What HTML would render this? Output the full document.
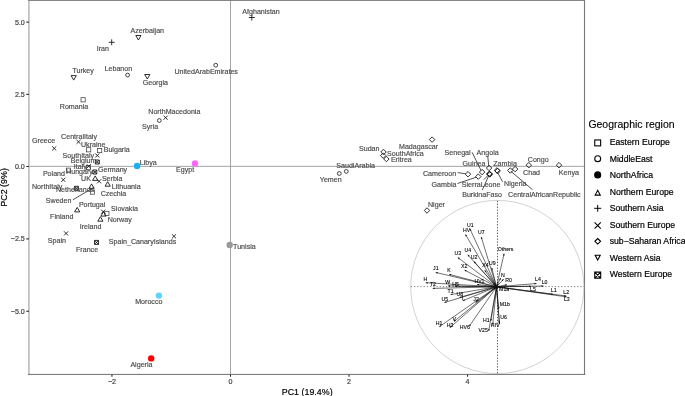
<!DOCTYPE html>
<html lang="en"><head><meta charset="utf-8"><title>PCA of mtDNA haplogroup frequencies</title>
<style>
html,body{margin:0;padding:0;background:#fff;}
body{width:685px;height:396px;overflow:hidden;}
svg{display:block;font-family:"Liberation Sans",Arial,Helvetica,sans-serif;}
.lab{font-size:7.1px;fill:#4a4a4a;stroke:#4a4a4a;stroke-width:0.16px;}
.tick{font-size:7.1px;fill:#444;stroke:#444;stroke-width:0.2px;}
.bi{font-size:5.2px;fill:#000;stroke:#000;stroke-width:0.1px;}
.leg{font-size:8.67px;fill:#000;stroke:#000;stroke-width:0.2px;}
.ttl{font-size:8.9px;fill:#000;stroke:#000;stroke-width:0.18px;}
</style></head><body>
<svg width="685" height="396" viewBox="0 0 685 396">
<rect x="0" y="0" width="685" height="396" fill="#ffffff"/>
<g stroke="#9a9a9a" stroke-width="0.9" fill="none"><path d="M29.4 166.35H584.3"/><path d="M230.5 0.5V374.5"/></g>
<rect x="28" y="0" width="1.8" height="374.9" fill="#c2c2c2"/>
<rect x="28" y="0" width="557.1" height="0.95" fill="#808080"/>
<rect x="583.95" y="0" width="1.1" height="374.9" fill="#787878"/>
<rect x="28" y="373.9" width="557.1" height="1.0" fill="#707070"/>
<g stroke="#1a1a1a" stroke-width="1.05">
<path d="M26.3 22.1H28.9"/>
<path d="M26.3 94.35H28.9"/>
<path d="M26.3 166.5H28.9"/>
<path d="M26.3 238.9H28.9"/>
<path d="M26.3 311.25H28.9"/>
<path d="M111.95 374.8V376.7"/>
<path d="M230.5 374.8V376.7"/>
<path d="M349.05 374.8V376.7"/>
<path d="M467.6 374.8V376.7"/>
</g>
<g class="tick" text-anchor="end">
<text x="24.8" y="24.55">5.0</text>
<text x="24.8" y="96.75">2.5</text>
<text x="24.8" y="168.95">0.0</text>
<text x="24.8" y="241.25">−2.5</text>
<text x="24.8" y="313.55">−5.0</text>
</g><g class="tick" text-anchor="middle">
<text x="111.95" y="384.0">−2</text>
<text x="230.5" y="384.0">0</text>
<text x="349.05" y="384.0">2</text>
<text x="467.6" y="384.0">4</text>
</g>
<text class="ttl" x="307.2" y="394.7" text-anchor="middle">PC1 (19.4%)</text>
<text class="ttl" transform="translate(6.7 187.4) rotate(-90)" text-anchor="middle">PC2 (9%)</text>
<circle cx="497.3" cy="287.0" r="86.6" fill="none" stroke="#b4b4b4" stroke-width="0.6"/>
<g fill="none"><path d="M497.5 200.8V373.6" stroke="#3a3a3a" stroke-width="0.8" stroke-dasharray="1.4 1.5"/><path d="M410.8 286.6H584" stroke="#6e6e6e" stroke-width="0.85" stroke-dasharray="1.3 1.9"/></g>
<g stroke="#1a1a1a" stroke-width="0.75" fill="none">
<path d="M72.9 199.8L93.5 187.5"/>
<path d="M457.7 172.6L465.8 173.8"/>
<path d="M472.1 152.3L481.1 170.6"/>
<path d="M487.7 155.8L488.8 166.3"/>
<path d="M457.5 183.5L476.3 177.2"/>
<path d="M483.8 179.7L488.2 175.2"/>
<path d="M482.3 190.1L489.1 174.9"/>
<path d="M497.5 172.3L502.6 181.8"/>
<path d="M510.8 171.2L532.5 189.7"/>
</g>
<g>
<rect x="81.00" y="97.70" width="4.20" height="4.20" fill="none" stroke="#2e2e2e" stroke-width="0.68"/>
<rect x="86.60" y="147.70" width="4.20" height="4.20" fill="none" stroke="#2e2e2e" stroke-width="0.68"/>
<rect x="97.60" y="148.50" width="4.20" height="4.20" fill="none" stroke="#2e2e2e" stroke-width="0.68"/>
<rect x="66.40" y="168.10" width="4.20" height="4.20" fill="none" stroke="#2e2e2e" stroke-width="0.68"/>
<rect x="86.40" y="165.50" width="4.20" height="4.20" fill="none" stroke="#2e2e2e" stroke-width="0.68"/>
<rect x="90.30" y="190.00" width="4.20" height="4.20" fill="none" stroke="#2e2e2e" stroke-width="0.68"/>
<rect x="104.80" y="211.30" width="4.20" height="4.20" fill="none" stroke="#2e2e2e" stroke-width="0.68"/>
<circle cx="127.60" cy="75.10" r="1.90" fill="none" stroke="#141414" stroke-width="0.8"/>
<circle cx="215.70" cy="65.20" r="1.90" fill="none" stroke="#141414" stroke-width="0.8"/>
<circle cx="159.30" cy="120.50" r="1.90" fill="none" stroke="#141414" stroke-width="0.8"/>
<circle cx="346.30" cy="171.40" r="1.90" fill="none" stroke="#141414" stroke-width="0.8"/>
<circle cx="339.30" cy="173.50" r="1.90" fill="none" stroke="#141414" stroke-width="0.8"/>
<path d="M95.20 175.90L97.80 180.40L92.60 180.40Z" fill="none" stroke="#141414" stroke-width="0.88"/>
<path d="M107.70 181.70L110.30 186.20L105.10 186.20Z" fill="none" stroke="#141414" stroke-width="0.88"/>
<path d="M91.60 183.90L94.20 188.40L89.00 188.40Z" fill="none" stroke="#141414" stroke-width="0.88"/>
<path d="M77.20 207.40L79.80 211.90L74.60 211.90Z" fill="none" stroke="#141414" stroke-width="0.88"/>
<path d="M103.50 211.60L106.10 216.10L100.90 216.10Z" fill="none" stroke="#141414" stroke-width="0.88"/>
<path d="M100.40 216.70L103.00 221.20L97.80 221.20Z" fill="none" stroke="#141414" stroke-width="0.88"/>
<path d="M108.70 42.30H114.70M111.70 39.30V45.30" fill="none" stroke="#141414" stroke-width="0.88"/>
<path d="M248.80 17.50H254.80M251.80 14.50V20.50" fill="none" stroke="#141414" stroke-width="0.88"/>
<path d="M163.55 115.65L167.65 119.75M163.55 119.75L167.65 115.65" fill="none" stroke="#141414" stroke-width="0.88"/>
<path d="M52.15 146.35L56.25 150.45M52.15 150.45L56.25 146.35" fill="none" stroke="#141414" stroke-width="0.88"/>
<path d="M76.45 139.85L80.55 143.95M76.45 143.95L80.55 139.85" fill="none" stroke="#141414" stroke-width="0.88"/>
<path d="M95.25 153.45L99.35 157.55M95.25 157.55L99.35 153.45" fill="none" stroke="#141414" stroke-width="0.88"/>
<path d="M86.65 164.25L90.75 168.35M86.65 168.35L90.75 164.25" fill="none" stroke="#141414" stroke-width="0.88"/>
<path d="M61.25 177.75L65.35 181.85M61.25 181.85L65.35 177.75" fill="none" stroke="#141414" stroke-width="0.88"/>
<path d="M97.05 179.25L101.15 183.35M97.05 183.35L101.15 179.25" fill="none" stroke="#141414" stroke-width="0.88"/>
<path d="M101.15 209.65L105.25 213.75M101.15 213.75L105.25 209.65" fill="none" stroke="#141414" stroke-width="0.88"/>
<path d="M64.05 231.35L68.15 235.45M64.05 235.45L68.15 231.35" fill="none" stroke="#141414" stroke-width="0.88"/>
<path d="M171.95 234.25L176.05 238.35M171.95 238.35L176.05 234.25" fill="none" stroke="#141414" stroke-width="0.88"/>
<path d="M383.50 149.28L386.22 152.00L383.50 154.72L380.78 152.00Z" fill="none" stroke="#141414" stroke-width="0.88"/>
<path d="M383.20 152.88L385.92 155.60L383.20 158.32L380.48 155.60Z" fill="none" stroke="#141414" stroke-width="0.88"/>
<path d="M386.40 156.28L389.12 159.00L386.40 161.72L383.68 159.00Z" fill="none" stroke="#141414" stroke-width="0.88"/>
<path d="M432.10 136.88L434.82 139.60L432.10 142.32L429.38 139.60Z" fill="none" stroke="#141414" stroke-width="0.88"/>
<path d="M427.00 207.78L429.72 210.50L427.00 213.22L424.28 210.50Z" fill="none" stroke="#141414" stroke-width="0.88"/>
<path d="M468.00 171.48L470.72 174.20L468.00 176.92L465.28 174.20Z" fill="none" stroke="#141414" stroke-width="0.88"/>
<path d="M482.10 169.38L484.82 172.10L482.10 174.82L479.38 172.10Z" fill="none" stroke="#141414" stroke-width="0.88"/>
<path d="M478.30 173.88L481.02 176.60L478.30 179.32L475.58 176.60Z" fill="none" stroke="#141414" stroke-width="0.88"/>
<path d="M489.10 165.28L491.82 168.00L489.10 170.72L486.38 168.00Z" fill="none" stroke="#141414" stroke-width="0.88"/>
<path d="M489.60 171.38L492.32 174.10L489.60 176.82L486.88 174.10Z" fill="none" stroke="#141414" stroke-width="0.88"/>
<path d="M489.90 171.68L492.62 174.40L489.90 177.12L487.18 174.40Z" fill="none" stroke="#141414" stroke-width="0.88"/>
<path d="M489.30 171.08L492.02 173.80L489.30 176.52L486.58 173.80Z" fill="none" stroke="#141414" stroke-width="0.88"/>
<path d="M497.00 167.68L499.72 170.40L497.00 173.12L494.28 170.40Z" fill="none" stroke="#141414" stroke-width="0.88"/>
<path d="M497.60 168.28L500.32 171.00L497.60 173.72L494.88 171.00Z" fill="none" stroke="#141414" stroke-width="0.88"/>
<path d="M510.30 167.78L513.02 170.50L510.30 173.22L507.58 170.50Z" fill="none" stroke="#141414" stroke-width="0.88"/>
<path d="M515.10 166.38L517.82 169.10L515.10 171.82L512.38 169.10Z" fill="none" stroke="#141414" stroke-width="0.88"/>
<path d="M528.80 162.48L531.52 165.20L528.80 167.92L526.08 165.20Z" fill="none" stroke="#141414" stroke-width="0.88"/>
<path d="M559.00 162.48L561.72 165.20L559.00 167.92L556.28 165.20Z" fill="none" stroke="#141414" stroke-width="0.88"/>
<path d="M138.40 40.00L141.00 35.50L135.80 35.50Z" fill="none" stroke="#141414" stroke-width="0.88"/>
<path d="M73.70 80.10L76.30 75.60L71.10 75.60Z" fill="none" stroke="#141414" stroke-width="0.88"/>
<path d="M147.30 79.00L149.90 74.50L144.70 74.50Z" fill="none" stroke="#141414" stroke-width="0.88"/>
<path d="M95.30 160.00H99.30V164.00H95.30Z M95.30 160.00L99.30 164.00M95.30 164.00L99.30 160.00" fill="none" stroke="#141414" stroke-width="0.88"/>
<path d="M92.80 170.00H96.80V174.00H92.80Z M92.80 170.00L96.80 174.00M92.80 174.00L96.80 170.00" fill="none" stroke="#141414" stroke-width="0.88"/>
<path d="M74.40 186.30H78.40V190.30H74.40Z M74.40 186.30L78.40 190.30M74.40 190.30L78.40 186.30" fill="none" stroke="#141414" stroke-width="0.88"/>
<path d="M94.50 240.40H98.50V244.40H94.50Z M94.50 240.40L98.50 244.40M94.50 244.40L98.50 240.40" fill="none" stroke="#141414" stroke-width="0.88"/>
<circle cx="137.10" cy="166.00" r="3.20" fill="#1caff0"/>
<circle cx="195.00" cy="163.40" r="3.20" fill="#ff66ff"/>
<circle cx="229.70" cy="245.00" r="3.20" fill="#999999"/>
<circle cx="158.90" cy="295.60" r="3.20" fill="#5fd4ff"/>
<circle cx="151.20" cy="358.40" r="3.20" fill="#ff0000"/>
</g>
<g class="lab">
<text x="242.3" y="13.9">Afghanistan</text>
<text x="130.5" y="33.1">Azerbaijan</text>
<text x="96.7" y="50.5">Iran</text>
<text x="72.4" y="72.8">Turkey</text>
<text x="104.6" y="71.4">Lebanon</text>
<text x="142.7" y="84.7">Georgia</text>
<text x="174.4" y="74.3">UnitedArabEmirates</text>
<text x="59.8" y="108.7">Romania</text>
<text x="148.3" y="113.9">NorthMacedonia</text>
<text x="142" y="129">Syria</text>
<text x="32" y="143.4">Greece</text>
<text x="61.1" y="138.9">CentralItaly</text>
<text x="81" y="146.5">Ukraine</text>
<text x="103.7" y="152.3">Bulgaria</text>
<text x="62.6" y="157.8">SouthItaly</text>
<text x="70.8" y="163.3">Belgium</text>
<text x="73.8" y="168.5">Italy</text>
<text x="42.9" y="175.8">Poland</text>
<text x="66.1" y="174.3">Hungary</text>
<text x="98" y="171.5">Germany</text>
<text x="81.1" y="180.9">UK</text>
<text x="101.9" y="181.1">Serbia</text>
<text x="32" y="188.7">NorthItaly</text>
<text x="56" y="191.8">Netherlands</text>
<text x="111.8" y="189.1">Lithuania</text>
<text x="100.7" y="196.2">Czechia</text>
<text x="45.8" y="202.8">Sweden</text>
<text x="78.9" y="206.9">Portugal</text>
<text x="111.1" y="210.9">Slovakia</text>
<text x="50.1" y="218.9">Finland</text>
<text x="107.7" y="222.2">Norway</text>
<text x="79.7" y="229.2">Ireland</text>
<text x="47.8" y="242.6">Spain</text>
<text x="108.8" y="243.8">Spain_CanaryIslands</text>
<text x="76" y="251.7">France</text>
<text x="139.8" y="164.7">Libya</text>
<text x="176" y="171.9">Egypt</text>
<text x="233.1" y="248.7">Tunisia</text>
<text x="135.2" y="303.9">Morocco</text>
<text x="130.4" y="366.7">Algeria</text>
<text x="336.3" y="167.9">SaudiArabia</text>
<text x="319.8" y="182.1">Yemen</text>
<text x="359" y="150.8">Sudan</text>
<text x="387.1" y="156">SouthAfrica</text>
<text x="390.9" y="161.7">Eritrea</text>
<text x="399" y="148.5">Madagascar</text>
<text x="444.6" y="154.8">Senegal</text>
<text x="476.6" y="154.8">Angola</text>
<text x="462.6" y="165.6">Guinea</text>
<text x="493.2" y="165.5">Zambia</text>
<text x="423.0" y="175.6">Cameroon</text>
<text x="431.6" y="186.8">Gambia</text>
<text x="461.8" y="186.8">SierraLeone</text>
<text x="504.1" y="185.9">Nigeria</text>
<text x="462.2" y="197.1">BurkinaFaso</text>
<text x="508.1" y="196.5">CentralAfricanRepublic</text>
<text x="527.8" y="161.7">Congo</text>
<text x="523.1" y="175">Chad</text>
<text x="558.8" y="174.5">Kenya</text>
<text x="428" y="206.6">Niger</text>
</g>
<g>
<path d="M496.50 286.80L496.77 290.42" stroke="#111" stroke-width="0.6" fill="none"/><path d="M496.77 290.42L495.78 288.49L497.47 288.36Z" fill="#111"/>
<path d="M496.50 286.80L493.89 289.58" stroke="#111" stroke-width="0.6" fill="none"/><path d="M493.89 289.58L494.64 287.54L495.88 288.70Z" fill="#111"/>
<path d="M496.50 286.80L494.95 285.24" stroke="#111" stroke-width="0.6" fill="none"/><path d="M494.95 285.24L496.97 286.06L495.76 287.26Z" fill="#111"/>
<path d="M496.50 286.80L501.00 287.17" stroke="#111" stroke-width="0.6" fill="none"/><path d="M501.00 287.17L498.93 287.85L499.07 286.16Z" fill="#111"/>
<path d="M496.50 286.80L496.34 289.50" stroke="#111" stroke-width="0.6" fill="none"/><path d="M496.34 289.50L495.61 287.45L497.31 287.55Z" fill="#111"/>
<path d="M496.50 286.80L499.91 286.71" stroke="#111" stroke-width="0.6" fill="none"/><path d="M499.91 286.71L497.93 287.61L497.89 285.91Z" fill="#111"/>
<path d="M496.50 286.80L498.27 283.86" stroke="#111" stroke-width="0.6" fill="none"/><path d="M498.27 283.86L497.97 286.02L496.51 285.14Z" fill="#111"/>
<path d="M496.50 286.80L494.93 284.92" stroke="#111" stroke-width="0.6" fill="none"/><path d="M494.93 284.92L496.86 285.91L495.56 287.00Z" fill="#111"/>
<path d="M496.50 286.80L493.45 283.35" stroke="#111" stroke-width="0.6" fill="none"/><path d="M493.45 283.35L495.41 284.29L494.14 285.41Z" fill="#111"/>
<path d="M496.50 286.80L469.90 228.70" stroke="#111" stroke-width="0.6" fill="none"/><path d="M469.90 228.70L471.51 230.16L469.96 230.87Z" fill="#111"/>
<path d="M496.50 286.80L465.40 234.40" stroke="#111" stroke-width="0.6" fill="none"/><path d="M465.40 234.40L467.15 235.69L465.69 236.55Z" fill="#111"/>
<path d="M496.50 286.80L481.20 236.90" stroke="#111" stroke-width="0.6" fill="none"/><path d="M481.20 236.90L482.60 238.56L480.97 239.06Z" fill="#111"/>
<path d="M496.50 286.80L467.70 254.70" stroke="#111" stroke-width="0.6" fill="none"/><path d="M467.70 254.70L469.67 255.62L468.40 256.76Z" fill="#111"/>
<path d="M496.50 286.80L457.80 257.50" stroke="#111" stroke-width="0.6" fill="none"/><path d="M457.80 257.50L459.91 258.03L458.88 259.38Z" fill="#111"/>
<path d="M496.50 286.80L474.00 261.40" stroke="#111" stroke-width="0.6" fill="none"/><path d="M474.00 261.40L475.96 262.33L474.69 263.46Z" fill="#111"/>
<path d="M496.50 286.80L464.50 270.00" stroke="#111" stroke-width="0.6" fill="none"/><path d="M464.50 270.00L466.67 270.18L465.88 271.68Z" fill="#111"/>
<path d="M496.50 286.80L484.70 270.20" stroke="#111" stroke-width="0.6" fill="none"/><path d="M484.70 270.20L486.55 271.34L485.17 272.32Z" fill="#111"/>
<path d="M496.50 286.80L491.70 267.70" stroke="#111" stroke-width="0.6" fill="none"/><path d="M491.70 267.70L493.01 269.43L491.36 269.85Z" fill="#111"/>
<path d="M496.50 286.80L435.60 272.40" stroke="#111" stroke-width="0.6" fill="none"/><path d="M435.60 272.40L437.74 272.03L437.35 273.69Z" fill="#111"/>
<path d="M496.50 286.80L449.10 274.30" stroke="#111" stroke-width="0.6" fill="none"/><path d="M449.10 274.30L451.25 273.99L450.82 275.63Z" fill="#111"/>
<path d="M496.50 286.80L425.70 282.70" stroke="#111" stroke-width="0.6" fill="none"/><path d="M425.70 282.70L427.75 281.97L427.65 283.66Z" fill="#111"/>
<path d="M496.50 286.80L432.70 288.40" stroke="#111" stroke-width="0.6" fill="none"/><path d="M432.70 288.40L434.68 287.50L434.72 289.20Z" fill="#111"/>
<path d="M496.50 286.80L448.00 285.90" stroke="#111" stroke-width="0.6" fill="none"/><path d="M448.00 285.90L450.02 285.09L449.98 286.79Z" fill="#111"/>
<path d="M496.50 286.80L455.00 286.30" stroke="#111" stroke-width="0.6" fill="none"/><path d="M455.00 286.30L457.01 285.47L456.99 287.17Z" fill="#111"/>
<path d="M496.50 286.80L477.00 284.50" stroke="#111" stroke-width="0.6" fill="none"/><path d="M477.00 284.50L479.09 283.89L478.89 285.58Z" fill="#111"/>
<path d="M496.50 286.80L450.50 294.60" stroke="#111" stroke-width="0.6" fill="none"/><path d="M450.50 294.60L452.33 293.43L452.61 295.10Z" fill="#111"/>
<path d="M496.50 286.80L459.50 297.50" stroke="#111" stroke-width="0.6" fill="none"/><path d="M459.50 297.50L461.19 296.13L461.66 297.76Z" fill="#111"/>
<path d="M496.50 286.80L462.70 300.80" stroke="#111" stroke-width="0.6" fill="none"/><path d="M462.70 300.80L464.22 299.25L464.87 300.82Z" fill="#111"/>
<path d="M496.50 286.80L444.40 302.50" stroke="#111" stroke-width="0.6" fill="none"/><path d="M444.40 302.50L446.07 301.11L446.56 302.74Z" fill="#111"/>
<path d="M496.50 286.80L475.60 302.60" stroke="#111" stroke-width="0.6" fill="none"/><path d="M475.60 302.60L476.68 300.72L477.71 302.07Z" fill="#111"/>
<path d="M496.50 286.80L439.20 326.80" stroke="#111" stroke-width="0.6" fill="none"/><path d="M439.20 326.80L440.35 324.96L441.33 326.35Z" fill="#111"/>
<path d="M496.50 286.80L453.90 321.50" stroke="#111" stroke-width="0.6" fill="none"/><path d="M453.90 321.50L454.91 319.58L455.99 320.90Z" fill="#111"/>
<path d="M496.50 286.80L449.80 327.70" stroke="#111" stroke-width="0.6" fill="none"/><path d="M449.80 327.70L450.74 325.74L451.86 327.02Z" fill="#111"/>
<path d="M496.50 286.80L469.20 326.30" stroke="#111" stroke-width="0.6" fill="none"/><path d="M469.20 326.30L469.64 324.17L471.04 325.14Z" fill="#111"/>
<path d="M496.50 286.80L490.80 321.00" stroke="#111" stroke-width="0.6" fill="none"/><path d="M490.80 321.00L490.29 318.89L491.97 319.17Z" fill="#111"/>
<path d="M496.50 286.80L488.70 331.00" stroke="#111" stroke-width="0.6" fill="none"/><path d="M488.70 331.00L488.21 328.88L489.88 329.18Z" fill="#111"/>
<path d="M496.50 286.80L492.70 324.70" stroke="#111" stroke-width="0.6" fill="none"/><path d="M492.70 324.70L492.05 322.63L493.75 322.79Z" fill="#111"/>
<path d="M496.50 286.80L499.50 324.00" stroke="#111" stroke-width="0.6" fill="none"/><path d="M499.50 324.00L498.49 322.07L500.19 321.94Z" fill="#111"/>
<path d="M496.50 286.80L498.80 308.90" stroke="#111" stroke-width="0.6" fill="none"/><path d="M498.80 308.90L497.75 307.00L499.44 306.82Z" fill="#111"/>
<path d="M496.50 286.80L499.30 322.80" stroke="#111" stroke-width="0.6" fill="none"/><path d="M499.30 322.80L498.30 320.87L499.99 320.74Z" fill="#111"/>
<path d="M496.50 286.80L504.10 253.60" stroke="#111" stroke-width="0.6" fill="none"/><path d="M504.10 253.60L504.48 255.74L502.83 255.36Z" fill="#111"/>
<path d="M496.50 286.80L500.70 277.90" stroke="#111" stroke-width="0.6" fill="none"/><path d="M500.70 277.90L500.62 280.07L499.08 279.35Z" fill="#111"/>
<path d="M496.50 286.80L503.60 279.10" stroke="#111" stroke-width="0.6" fill="none"/><path d="M503.60 279.10L502.87 281.15L501.62 279.99Z" fill="#111"/>
<path d="M496.50 286.80L536.50 283.50" stroke="#111" stroke-width="0.6" fill="none"/><path d="M536.50 283.50L534.58 284.51L534.44 282.82Z" fill="#111"/>
<path d="M496.50 286.80L543.50 286.00" stroke="#111" stroke-width="0.6" fill="none"/><path d="M543.50 286.00L541.51 286.88L541.49 285.18Z" fill="#111"/>
<path d="M496.50 286.80L531.20 286.30" stroke="#111" stroke-width="0.6" fill="none"/><path d="M531.20 286.30L529.21 287.18L529.19 285.48Z" fill="#111"/>
<path d="M496.50 286.80L553.20 294.40" stroke="#111" stroke-width="0.6" fill="none"/><path d="M553.20 294.40L551.10 294.98L551.33 293.29Z" fill="#111"/>
<path d="M496.50 286.80L566.30 296.00" stroke="#111" stroke-width="0.6" fill="none"/><path d="M566.30 296.00L564.21 296.58L564.43 294.90Z" fill="#111"/>
<path d="M496.50 286.80L566.60 296.90" stroke="#111" stroke-width="0.6" fill="none"/><path d="M566.60 296.90L564.50 297.46L564.74 295.77Z" fill="#111"/>
<path d="M496.50 286.80L507.00 284.80" stroke="#111" stroke-width="0.6" fill="none"/><path d="M507.00 284.80L505.19 286.01L504.88 284.34Z" fill="#111"/>
</g><g class="bi">
<text x="467" y="226.7">U1</text>
<text x="463" y="231.7">HV</text>
<text x="478" y="234.2">U7</text>
<text x="464.5" y="252.3">U4</text>
<text x="454.4" y="254.6">U3</text>
<text x="470.8" y="258.9">U2</text>
<text x="461.1" y="267.7">X2</text>
<text x="482.2" y="267.4">X4</text>
<text x="488.9" y="264.5">U9</text>
<text x="433.1" y="270.4">J1</text>
<text x="447.2" y="271.6">K</text>
<text x="423.6" y="280.5">H</text>
<text x="429.9" y="285.9">T2</text>
<text x="445.3" y="284">W</text>
<text x="452.3" y="285.7">H5</text>
<text x="474.4" y="283.1">HV1</text>
<text x="447.5" y="293.1">T1</text>
<text x="456.4" y="295.6">U8</text>
<text x="462" y="299.6">I</text>
<text x="441.4" y="300.5">U5</text>
<text x="473.3" y="300.8">J2</text>
<text x="435.8" y="324.7">H1</text>
<text x="452.6" y="320.6">V</text>
<text x="446.8" y="326.8">H3</text>
<text x="459.7" y="328.9">HV6</text>
<text x="483" y="321.8">H1</text>
<text x="478.6" y="332.3">V25</text>
<text x="490.8" y="326.6">H</text>
<text x="494.8" y="326.6">IV</text>
<text x="499.7" y="306.4">M1b</text>
<text x="500.3" y="318.8">U6</text>
<text x="497.8" y="250.7">Others</text>
<text x="501.1" y="276.6">N</text>
<text x="505.2" y="282.3">R0</text>
<text x="535" y="281.4">L4</text>
<text x="541.7" y="283.7">L0</text>
<text x="530" y="290.9">L5</text>
<text x="550.8" y="292">L1</text>
<text x="563.3" y="294.2">L2</text>
<text x="563.9" y="301">L3</text>
<text x="499.1" y="291.3">M1a</text>
</g>
<text x="588.4" y="127.8" style="font-size:10.48px" fill="#000" stroke="#000" stroke-width="0.12">Geographic region</text>
<g fill="none" stroke="#000" stroke-width="1.1">
<rect x="594.75" y="139.95" width="5.9" height="5.9"/>
<circle cx="597.7" cy="158.70" r="2.95"/>
<circle cx="597.7" cy="174.90" r="3.0" fill="#000"/>
<path d="M597.7 190.30L600.25 195.10L595.15 195.10Z"/>
<path d="M594.20 208.30H601.20M597.7 204.90V211.70" stroke-width="1"/>
<path d="M594.60 222.40L600.80 228.60M594.60 228.60L600.80 222.40"/>
<path d="M597.7 238.50L600.55 241.30L597.7 244.10L594.85 241.30Z"/>
<path d="M597.7 260.00L600.25 255.20L595.15 255.20Z"/>
<path d="M594.70 272.10H600.70V278.10H594.70Z M594.70 272.10L600.70 278.10M594.70 278.10L600.70 272.10"/>
</g><g class="leg">
<text x="609.7" y="145.20">Eastern Europe</text>
<text x="609.7" y="161.72">MiddleEast</text>
<text x="609.7" y="178.24">NorthAfrica</text>
<text x="609.7" y="194.76">Northern Europe</text>
<text x="609.7" y="211.28">Southern Asia</text>
<text x="609.7" y="227.80">Southern Europe</text>
<text x="609.7" y="244.32">sub−Saharan Africa</text>
<text x="609.7" y="260.84">Western Asia</text>
<text x="609.7" y="277.36">Western Europe</text>
</g>
</svg></body></html>
